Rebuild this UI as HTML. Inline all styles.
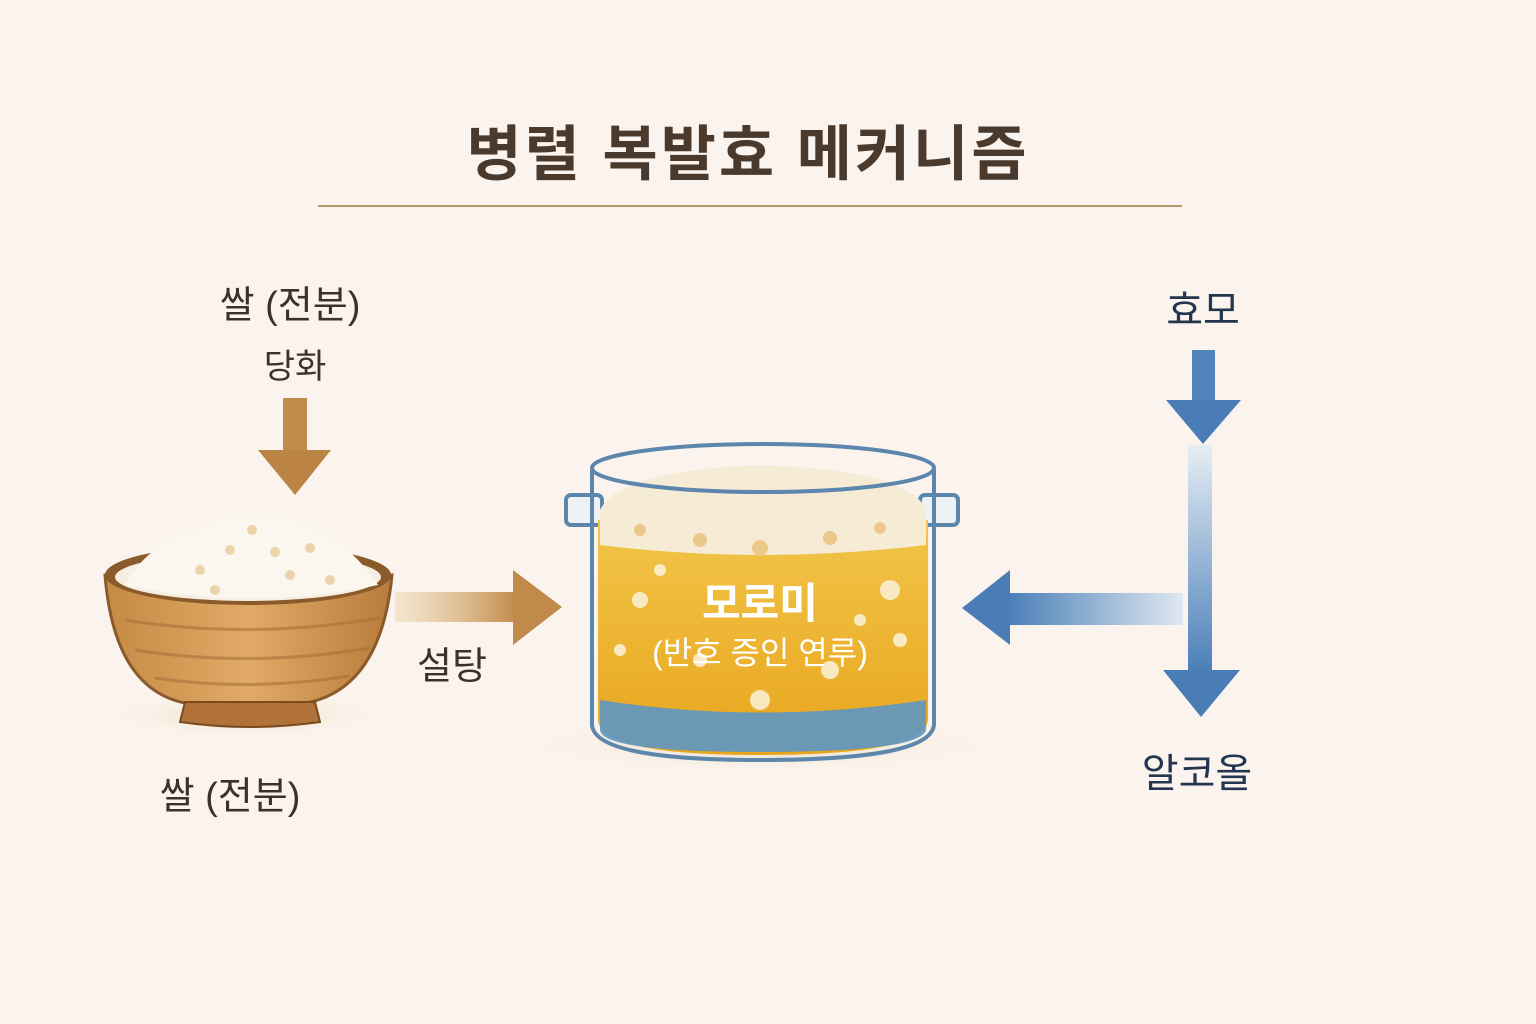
<!DOCTYPE html>
<html><head><meta charset="utf-8"><style>
body{margin:0;background:#fbf4ee;}
svg{display:block}
text{font-family:"Liberation Sans","Noto Sans CJK KR","NanumGothic",sans-serif;}
</style></head><body>
<svg width="1536" height="1024" viewBox="0 0 1536 1024">
<defs>
<linearGradient id="br" x1="0" x2="1"><stop offset="0" stop-color="#e9cfa4" stop-opacity="0.4"/><stop offset="1" stop-color="#c08a48"/></linearGradient>
<linearGradient id="bl" x1="1" x2="0"><stop offset="0" stop-color="#dfe8f0"/><stop offset="1" stop-color="#4b7fb8"/></linearGradient>
<linearGradient id="bv" x1="0" x2="0" y1="0" y2="1"><stop offset="0" stop-color="#e6eef4"/><stop offset="1" stop-color="#4a7eb8"/></linearGradient>
<linearGradient id="bowl" x1="0" x2="1"><stop offset="0" stop-color="#c58a45"/><stop offset="0.5" stop-color="#e0aa66"/><stop offset="1" stop-color="#b87b3b"/></linearGradient>
<linearGradient id="liq" x1="0" x2="0" y1="0" y2="1"><stop offset="0" stop-color="#f2c54a"/><stop offset="1" stop-color="#e8a51c"/></linearGradient>
<radialGradient id="sh"><stop offset="0" stop-color="#e5cfa4" stop-opacity="0.8"/><stop offset="1" stop-color="#fbf4ee" stop-opacity="0"/></radialGradient>
</defs>
<text x="748" y="175" font-size="60" font-weight="bold" fill="#4a3a2e" text-anchor="middle" letter-spacing="3">병렬 복발효 메커니즘</text>
<line x1="318" y1="206" x2="1182" y2="206" stroke="#b89870" stroke-width="2"/>

<text x="290" y="318" font-size="38" fill="#3e3228" text-anchor="middle">쌀 (전분)</text>
<text x="295" y="378" font-size="34" fill="#3e3228" text-anchor="middle">당화</text>
<rect x="283" y="398" width="24" height="54" fill="#c08c4c"/>
<polygon points="258,450 331,450 295,495" fill="#bb8444"/>

<ellipse cx="245" cy="715" rx="150" ry="25" fill="url(#sh)"/>
<path d="M105,575 Q115,700 200,705 L290,705 Q380,700 392,575 Z" fill="url(#bowl)" stroke="#8a5a2a" stroke-width="3"/>
<path d="M185,702 L180,722 Q250,732 320,722 L315,702 Z" fill="#b07238" stroke="#7a4a20" stroke-width="2"/>
<g stroke="#a8703a" stroke-width="3" fill="none" opacity="0.6">
<path d="M125,620 Q250,640 380,618"/><path d="M135,650 Q250,668 370,648"/><path d="M155,678 Q250,692 350,676"/></g>
<ellipse cx="248" cy="575" rx="143" ry="30" fill="#8a5a2a"/>
<ellipse cx="248" cy="577" rx="133" ry="24" fill="#f6eee2"/>
<path d="M125,585 Q150,540 200,530 Q240,505 290,520 Q345,535 378,585 Q250,612 125,585Z" fill="#fbf6ee"/>
<g fill="#ecd3a8"><circle cx="252" cy="530" r="5"/><circle cx="230" cy="550" r="5"/><circle cx="275" cy="552" r="5"/><circle cx="200" cy="570" r="5"/><circle cx="310" cy="548" r="5"/><circle cx="330" cy="580" r="5"/><circle cx="215" cy="590" r="5"/><circle cx="290" cy="575" r="5"/></g>

<rect x="395" y="592" width="122" height="30" fill="url(#br)"/>
<polygon points="513,570 562,607 513,645" fill="#bf8a4a"/>
<text x="452" y="679" font-size="38" fill="#3e3228" text-anchor="middle">설탕</text>
<text x="230" y="809" font-size="38" fill="#3e3228" text-anchor="middle">쌀 (전분)</text>

<ellipse cx="760" cy="745" rx="260" ry="30" fill="url(#sh)"/>
<rect x="566" y="495" width="36" height="30" rx="5" fill="#eef2f4" stroke="#5d86ad" stroke-width="4"/>
<rect x="920" y="495" width="38" height="30" rx="5" fill="#eef2f4" stroke="#5d86ad" stroke-width="4"/>
<path d="M598,520 L598,720 Q600,755 760,755 Q925,755 928,720 L928,520 Z" fill="url(#liq)"/>
<path d="M600,700 Q760,725 926,700 L926,730 Q920,752 760,752 Q602,752 600,730Z" fill="#5d97c4" opacity="0.9"/>
<path d="M600,510 Q620,470 760,465 Q910,470 926,510 L926,545 Q760,565 600,545Z" fill="#f6ecd6"/>
<g fill="#fbf3dc" opacity="0.85"><circle cx="640" cy="600" r="8"/><circle cx="890" cy="590" r="10"/><circle cx="700" cy="660" r="7"/><circle cx="830" cy="670" r="9"/><circle cx="620" cy="650" r="6"/><circle cx="900" cy="640" r="7"/><circle cx="760" cy="700" r="10"/><circle cx="860" cy="620" r="6"/><circle cx="660" cy="570" r="6"/></g>
<g fill="#ecc98a"><circle cx="700" cy="540" r="7"/><circle cx="760" cy="548" r="8"/><circle cx="830" cy="538" r="7"/><circle cx="640" cy="530" r="6"/><circle cx="880" cy="528" r="6"/></g>
<path d="M592,470 L592,725 Q595,760 760,760 Q930,760 934,725 L934,470" fill="none" stroke="#5d86ad" stroke-width="4"/>
<ellipse cx="763" cy="468" rx="171" ry="24" fill="none" stroke="#5d86ad" stroke-width="4"/>
<text x="760" y="618" font-size="42" font-weight="bold" fill="#fff" text-anchor="middle">모로미</text>
<text x="760" y="664" font-size="32" fill="#fff" text-anchor="middle">(반흐 증인 연루)</text>

<text x="1203" y="324" font-size="40" fill="#243550" text-anchor="middle">효모</text>
<rect x="1192" y="350" width="23" height="52" fill="#4f83b9"/>
<polygon points="1166,400 1241,400 1203,444" fill="#4a7db6"/>
<rect x="1188" y="445" width="24" height="228" fill="url(#bv)"/>
<polygon points="1163,670 1240,670 1201,717" fill="#4a7db6"/>
<rect x="1008" y="593" width="175" height="32" fill="url(#bl)"/>
<polygon points="1010,570 962,608 1010,645" fill="#4a7db6"/>
<text x="1197" y="787" font-size="40" fill="#243550" text-anchor="middle">알코올</text>
</svg>
</body></html>
